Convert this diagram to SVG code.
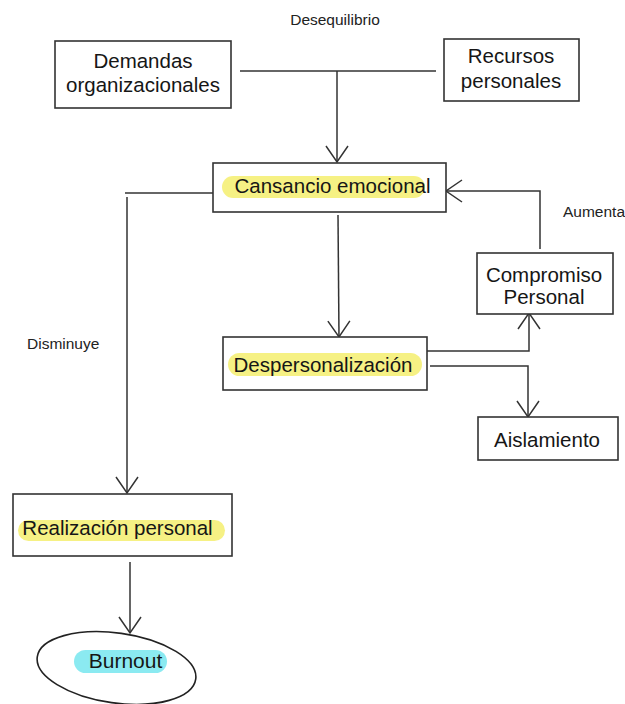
<svg xmlns="http://www.w3.org/2000/svg" width="625" height="704" viewBox="0 0 625 704">
<defs>
<style>
.box{fill:#fff;stroke:#333;stroke-width:1.6}
.t{font-family:"Liberation Sans",Arial,sans-serif;font-size:20.5px;fill:#161616;text-anchor:middle}
.s{font-family:"Liberation Sans",Arial,sans-serif;font-size:15.5px;fill:#222}
.con{fill:none;stroke:#333;stroke-width:1.5}
.hy{fill:#f5ef6e;opacity:0.85}
.hc{fill:#7ee8ef;opacity:0.9}
</style>
<marker id="arr" markerUnits="userSpaceOnUse" markerWidth="40" markerHeight="40" viewBox="-20 -20 40 40" refX="0" refY="0" orient="auto" overflow="visible">
<path d="M-16,-11 L0,0 L-16,11" fill="none" stroke="#333" stroke-width="1.5"/>
</marker>
</defs>
<rect width="625" height="704" fill="#fff"/>

<g id="labels">
<text class="s" x="335" y="25" text-anchor="middle">Desequilibrio</text>
<text class="s" x="563" y="217">Aumenta</text>
<text class="s" x="27" y="349">Disminuye</text>
</g>

<g id="connectors">
<path class="con" d="M240,71 L436,71"/>
<path class="con" d="M337,71 L337,162" marker-end="url(#arr)"/>
<path class="con" d="M213,193 L125,193"/>
<path class="con" d="M127,197 L127,493" marker-end="url(#arr)"/>
<path class="con" d="M338,215 L339,337" marker-end="url(#arr)"/>
<path class="con" d="M427,351 L529,351 L529,313" marker-end="url(#arr)"/>
<path class="con" d="M430,366 L528,366 L528,417" marker-end="url(#arr)"/>
<path class="con" d="M540,249 L540,191 L446,191" marker-end="url(#arr)"/>
<path class="con" d="M130,562 L130,633" marker-end="url(#arr)"/>
</g>

<g id="demandas">
<rect class="box" x="55" y="41" width="176" height="67"/>
<text class="t" x="143" y="68">Demandas</text>
<text class="t" x="143" y="92">organizacionales</text>
</g>

<g id="recursos">
<rect class="box" x="444" y="39" width="135" height="62"/>
<text class="t" x="511" y="63">Recursos</text>
<text class="t" x="511" y="88">personales</text>
</g>

<g id="cansancio">
<rect class="box" x="213" y="163" width="233" height="49"/>
<rect class="hy" x="222" y="176" width="203" height="22" rx="11"/>
<text class="t" x="332.5" y="193">Cansancio emocional</text>
</g>

<g id="compromiso">
<rect class="box" x="477" y="253" width="136" height="61"/>
<text class="t" x="544" y="282">Compromiso</text>
<text class="t" x="544" y="304">Personal</text>
</g>

<g id="despersonalizacion">
<rect class="box" x="223" y="337" width="204" height="53"/>
<rect class="hy" x="228" y="353" width="194" height="23" rx="11.5"/>
<text class="t" x="323" y="372">Despersonalización</text>
</g>

<g id="aislamiento">
<rect class="box" x="478" y="417" width="140" height="43"/>
<text class="t" x="547" y="447">Aislamiento</text>
</g>

<g id="realizacion">
<rect class="box" x="13" y="494" width="219" height="62"/>
<rect class="hy" x="18" y="520" width="207" height="21" rx="10.5"/>
<text class="t" x="117.5" y="535">Realización personal</text>
</g>

<g id="burnout">
<ellipse cx="116.5" cy="668" rx="80" ry="35" transform="rotate(8 116.5 668)" fill="#fff" stroke="#222" stroke-width="1.6"/>
<rect class="hc" x="74" y="650" width="93" height="23" rx="11.5"/>
<text class="t" x="125.5" y="668" style="font-size:21px">Burnout</text>
</g>
</svg>
